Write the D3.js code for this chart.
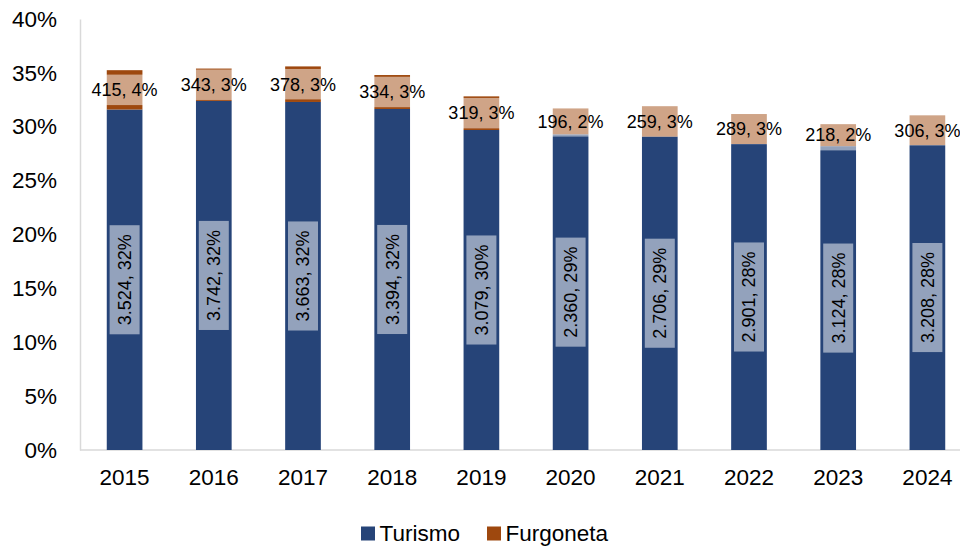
<!DOCTYPE html>
<html>
<head>
<meta charset="utf-8">
<script src="https://cdn.jsdelivr.net/npm/d3@7"></script>
<style>
  body { margin: 0; background: #fff; }
  svg text { font-family: "Liberation Sans", Arial, sans-serif; fill: #000; }
</style>
</head>
<body>
<svg id="chart"></svg>
<script>
var years = ["2015","2016","2017","2018","2019","2020","2021","2022","2023","2024"];
// share of each type (bar height, %)
var turismoPct = [31.6, 32.4, 32.3, 31.65, 29.7, 29.3, 29.1, 28.4, 28.2, 28.3];
var furgonetaPct = [3.65, 3.0, 3.3, 3.15, 3.12, 2.4, 2.8, 2.78, 2.04, 2.76];
// counts shown in the labels
var turismoCount = [3524, 3742, 3663, 3394, 3079, 2360, 2706, 2901, 3124, 3208];
var furgonetaCount = [415, 343, 378, 334, 319, 196, 259, 289, 218, 306];
var yTicks = [0, 5, 10, 15, 20, 25, 30, 35, 40];

var screen = {width: 960, height: 550};
var colors = {Turismo: "#264478", Furgoneta: "#9E480E"};

var es = d3.formatLocale({decimal: ",", thousands: ".", grouping: [3], currency: ["", "€"]});
var fmtCount = es.format(",d");

var svg = d3.select("#chart")
    .attr("width", screen.width)
    .attr("height", screen.height);

var xScale = d3.scaleBand()
    .domain(years)
    .range([80, 972])
    .paddingInner(0.6)
    .paddingOuter(0.3);

var yScale = d3.scaleLinear()
    .domain([0, 40])
    .range([450, 19]);

// axes
var yAxis = d3.axisLeft(yScale)
    .tickValues(yTicks)
    .tickSize(0)
    .tickPadding(23)
    .tickFormat(function(d){ return d + "%"; });

svg.append("g")
    .attr("transform", "translate(80,0)")
    .call(yAxis)
    .call(function(g){
        g.select(".domain").attr("stroke", "#d9d9d9").attr("stroke-width", 1.5);
        g.selectAll("text").style("font-size", "22.5px");
    });

var xAxis = d3.axisBottom(xScale)
    .tickSize(0)
    .tickPadding(19.5);

svg.append("g")
    .attr("transform", "translate(0,450)")
    .call(xAxis)
    .call(function(g){
        g.select(".domain").remove();
        g.selectAll("text").style("font-size", "22.5px");
    });

svg.append("line")
    .attr("x1", 80).attr("x2", 960)
    .attr("y1", 450).attr("y2", 450)
    .attr("stroke", "#d9d9d9")
    .attr("stroke-width", 1.5);

// stacked bars
var rows = years.map(function(y, i){
    return {year: y, Turismo: turismoPct[i], Furgoneta: furgonetaPct[i],
            tc: turismoCount[i], fc: furgonetaCount[i]};
});
var stack = d3.stack().keys(["Turismo", "Furgoneta"]);
var series = stack(rows);

var layers = svg.append("g")
    .selectAll("g")
    .data(series)
    .enter()
    .append("g")
    .attr("fill", function(s){ return colors[s.key]; });

layers.selectAll("rect")
    .data(function(s){ return s; })
    .enter()
    .append("rect")
    .attr("x", function(d){ return xScale(d.data.year); })
    .attr("width", xScale.bandwidth())
    .attr("y", function(d){ return yScale(d[1]); })
    .attr("height", function(d){ return yScale(d[0]) - yScale(d[1]); });

// data labels
var labels = svg.append("g");

// Turismo labels, rotated, with translucent box
series[0].forEach(function(d){
    var cx = xScale(d.data.year) + xScale.bandwidth() / 2;
    var cy = yScale((d[0] + d[1]) / 2);
    var g = labels.append("g")
        .attr("transform", "translate(" + cx + "," + cy + ") rotate(-90)");
    var box = g.append("rect");
    var t = g.append("text")
        .attr("text-anchor", "middle")
        .attr("dy", "0.35em")
        .style("font-size", "18px")
        .text(fmtCount(d.data.tc) + ", " + Math.round(d.data.Turismo) + "%");
    var w = t.node().getComputedTextLength() + 18;
    box.attr("x", -w / 2).attr("y", -15)
        .attr("width", w).attr("height", 30)
        .attr("fill", "#fff").attr("fill-opacity", 0.5);
});

// Furgoneta labels
series[1].forEach(function(d){
    var cx = xScale(d.data.year) + xScale.bandwidth() / 2;
    var cy = yScale((d[0] + d[1]) / 2);
    var g = labels.append("g")
        .attr("transform", "translate(" + cx + "," + cy + ")");
    var box = g.append("rect");
    var t = g.append("text")
        .attr("text-anchor", "middle")
        .attr("dy", "0.35em")
        .style("font-size", "18px")
        .text(d.data.fc + ", " + Math.round(d.data.Furgoneta) + "%");
    var w = t.node().getComputedTextLength() + 8;
    box.attr("x", -w / 2).attr("y", -15.25)
        .attr("width", w).attr("height", 30.5)
        .attr("fill", "#fff").attr("fill-opacity", 0.5);
});

// legend
var legend = svg.append("g").attr("transform", "translate(0,533.5)");
var legendItems = [{key: "Turismo", x: 361}, {key: "Furgoneta", x: 487}];
legendItems.forEach(function(it){
    legend.append("rect")
        .attr("x", it.x).attr("y", -7)
        .attr("width", 14).attr("height", 14)
        .attr("fill", colors[it.key]);
    legend.append("text")
        .attr("x", it.x + 18.5)
        .attr("dy", "0.35em")
        .style("font-size", "22.5px")
        .text(it.key);
});
</script>
</body>
</html>
